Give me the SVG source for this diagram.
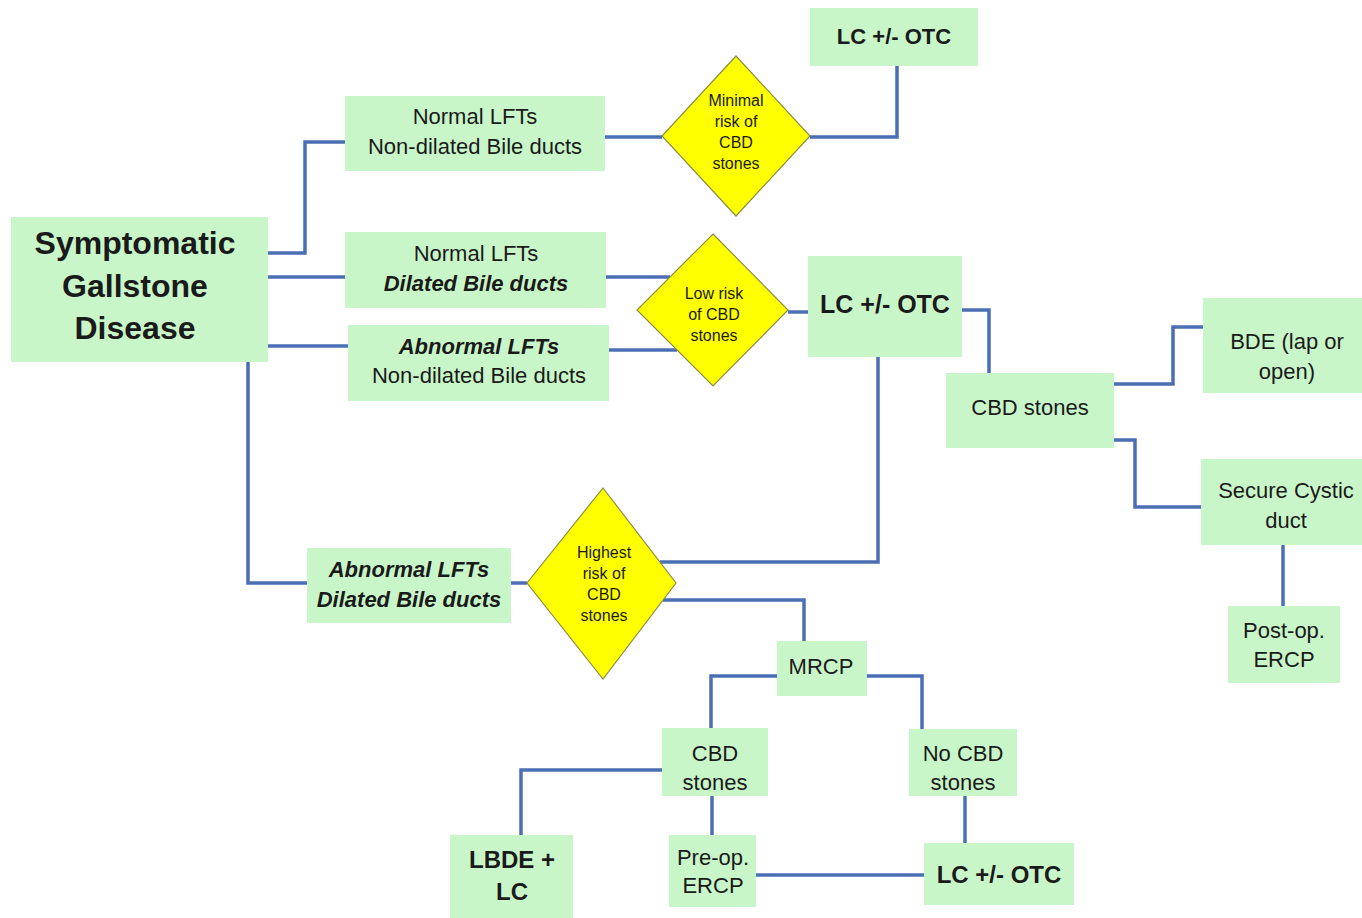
<svg xmlns="http://www.w3.org/2000/svg" width="1362" height="918" viewBox="0 0 1362 918">
<style>
.box{fill:#c9f6c9}
.dia{fill:#ffff00;stroke:#8c8c4a;stroke-width:1.2}
.t{font-family:"Liberation Sans",Arial,sans-serif;font-size:22px;fill:#1a1a1a;text-anchor:middle}
.b{font-weight:bold}
.bi{font-weight:bold;font-style:italic}
.d{font-size:16px}
.c{fill:none;stroke:#4a6fb5;stroke-width:3.5}
</style>
<rect width="1362" height="918" fill="#ffffff"/>
<g id="connectors">
<polyline class="c" points="268,253 305,253 305,142 345,142"/>
<polyline class="c" points="268,277 345,277"/>
<polyline class="c" points="268,346 348,346"/>
<polyline class="c" points="248,362 248,583 307,583"/>
<polyline class="c" points="605,137 662,137"/>
<polyline class="c" points="810,137 897,137 897,66"/>
<polyline class="c" points="606,277 670,277"/>
<polyline class="c" points="609,350 677,350"/>
<polyline class="c" points="788,312 808,312"/>
<polyline class="c" points="962,310 989,310 989,373"/>
<polyline class="c" points="1114,384 1173,384 1173,327 1203,327"/>
<polyline class="c" points="1114,440 1135,440 1135,507 1201,507"/>
<polyline class="c" points="1283,545 1283,606"/>
<polyline class="c" points="878,357 878,562 660,562"/>
<polyline class="c" points="511,583 527,583"/>
<polyline class="c" points="663,600 804,600 804,641"/>
<polyline class="c" points="777,676 711,676 711,728"/>
<polyline class="c" points="867,676 922,676 922,729"/>
<polyline class="c" points="662,770 521,770 521,835"/>
<polyline class="c" points="712,796 712,835"/>
<polyline class="c" points="756,875 924,875"/>
<polyline class="c" points="965,796 965,843"/>
</g>
<g id="n-symptomatic">
<rect class="box" x="11" y="217" width="257" height="145"/>
<text class="t b" style="font-size:32px" x="135" y="254">Symptomatic</text>
<text class="t b" style="font-size:32px" x="135" y="297">Gallstone</text>
<text class="t b" style="font-size:32px" x="135" y="339">Disease</text>
</g>
<g id="n-normal-nondilated">
<rect class="box" x="345" y="96" width="260" height="75"/>
<text class="t" x="475" y="124">Normal LFTs</text>
<text class="t" x="475" y="154">Non-dilated Bile ducts</text>
</g>
<g id="n-normal-dilated">
<rect class="box" x="345" y="232" width="261" height="76"/>
<text class="t" x="476" y="261">Normal LFTs</text>
<text class="t bi" x="476" y="291">Dilated Bile ducts</text>
</g>
<g id="n-abnormal-nondilated">
<rect class="box" x="348" y="325" width="261" height="76"/>
<text class="t bi" x="479" y="354">Abnormal LFTs</text>
<text class="t" x="479" y="383">Non-dilated Bile ducts</text>
</g>
<g id="d-minimal">
<polygon class="dia" points="736,56 810,136 736,216 662,136"/>
<text class="t d" x="736" y="106">Minimal</text>
<text class="t d" x="736" y="127">risk of</text>
<text class="t d" x="736" y="148">CBD</text>
<text class="t d" x="736" y="169">stones</text>
</g>
<g id="n-lc-top">
<rect class="box" x="810" y="8" width="168" height="58"/>
<text class="t b" x="894" y="44">LC +/- OTC</text>
</g>
<g id="d-low">
<polygon class="dia" points="713,234 788,310 713,386 637,310"/>
<text class="t d" x="714" y="299">Low risk</text>
<text class="t d" x="714" y="320">of CBD</text>
<text class="t d" x="714" y="341">stones</text>
</g>
<g id="n-lc-mid">
<rect class="box" x="808" y="256" width="154" height="101"/>
<text class="t b" style="font-size:25px" x="885" y="313">LC +/- OTC</text>
</g>
<g id="n-cbd-right">
<rect class="box" x="946" y="373" width="168" height="75"/>
<text class="t" x="1030" y="415">CBD stones</text>
</g>
<g id="n-bde">
<rect class="box" x="1203" y="298" width="159" height="95"/>
<text class="t" x="1287" y="349">BDE (lap or</text>
<text class="t" x="1287" y="379">open)</text>
</g>
<g id="n-secure">
<rect class="box" x="1201" y="459" width="161" height="86"/>
<text class="t" x="1286" y="498">Secure Cystic</text>
<text class="t" x="1286" y="528">duct</text>
</g>
<g id="n-postop">
<rect class="box" x="1228" y="606" width="112" height="77"/>
<text class="t" x="1284" y="638">Post-op.</text>
<text class="t" x="1284" y="667">ERCP</text>
</g>
<g id="n-abnormal-dilated">
<rect class="box" x="307" y="548" width="204" height="75"/>
<text class="t bi" x="409" y="577">Abnormal LFTs</text>
<text class="t bi" x="409" y="607">Dilated Bile ducts</text>
</g>
<g id="d-highest">
<polygon class="dia" points="603,488 676,583 603,679 527,583"/>
<text class="t d" x="604" y="558">Highest</text>
<text class="t d" x="604" y="579">risk of</text>
<text class="t d" x="604" y="600">CBD</text>
<text class="t d" x="604" y="621">stones</text>
</g>
<g id="n-mrcp">
<rect class="box" x="777" y="641" width="90" height="55"/>
<text class="t" x="821" y="674">MRCP</text>
</g>
<g id="n-cbd-low">
<rect class="box" x="662" y="728" width="106" height="68"/>
<text class="t" x="715" y="761">CBD</text>
<text class="t" x="715" y="790">stones</text>
</g>
<g id="n-nocbd">
<rect class="box" x="909" y="729" width="108" height="67"/>
<text class="t" x="963" y="761">No CBD</text>
<text class="t" x="963" y="790">stones</text>
</g>
<g id="n-lbde">
<rect class="box" x="450" y="835" width="123" height="83"/>
<text class="t b" style="font-size:24px" x="512" y="868">LBDE +</text>
<text class="t b" style="font-size:24px" x="512" y="900">LC</text>
</g>
<g id="n-preop">
<rect class="box" x="669" y="835" width="87" height="72"/>
<text class="t" x="713" y="865">Pre-op.</text>
<text class="t" x="713" y="893">ERCP</text>
</g>
<g id="n-lc-bottom">
<rect class="box" x="924" y="843" width="150" height="62"/>
<text class="t b" style="font-size:24px" x="999" y="883">LC +/-  OTC</text>
</g>
</svg>
